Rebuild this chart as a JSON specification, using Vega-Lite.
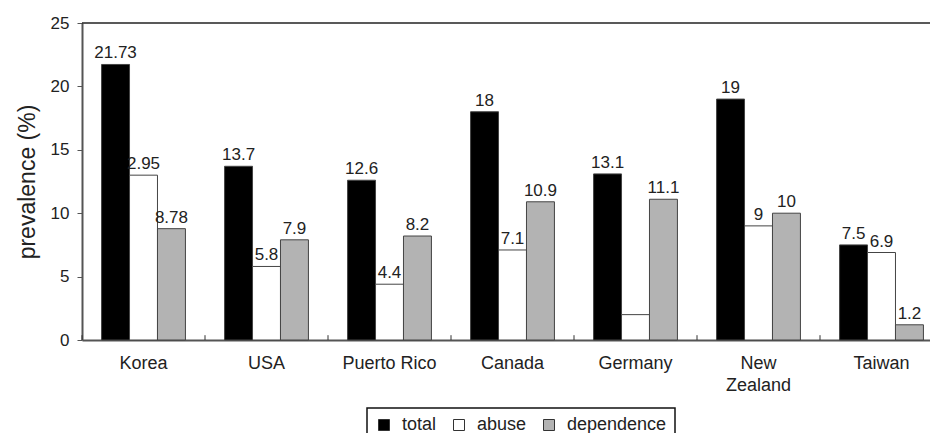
{
  "$schema": "https://vega.github.io/schema/vega-lite/v6.json",
  "width": 848,
  "height": 317,
  "autosize": {"type": "none"},
  "padding": {"left": 82, "top": 23, "right": 0, "bottom": 93},
  "config": {
    "view": {"stroke": null},
    "font": "Liberation Sans",
    "background": "white",
    "legend": {"strokeWidth": 1.5}
  },
  "datasets": {
    "bars": [
      {"country": "Korea", "measure": "total", "value": 21.73, "label": "21.73"},
      {"country": "Korea", "measure": "abuse", "value": 13.0, "label": "2.95"},
      {"country": "Korea", "measure": "dependence", "value": 8.78, "label": "8.78"},
      {"country": "USA", "measure": "total", "value": 13.7, "label": "13.7"},
      {"country": "USA", "measure": "abuse", "value": 5.8, "label": "5.8"},
      {"country": "USA", "measure": "dependence", "value": 7.9, "label": "7.9"},
      {"country": "Puerto Rico", "measure": "total", "value": 12.6, "label": "12.6"},
      {"country": "Puerto Rico", "measure": "abuse", "value": 4.4, "label": "4.4"},
      {"country": "Puerto Rico", "measure": "dependence", "value": 8.2, "label": "8.2"},
      {"country": "Canada", "measure": "total", "value": 18, "label": "18"},
      {"country": "Canada", "measure": "abuse", "value": 7.1, "label": "7.1"},
      {"country": "Canada", "measure": "dependence", "value": 10.9, "label": "10.9"},
      {"country": "Germany", "measure": "total", "value": 13.1, "label": "13.1"},
      {"country": "Germany", "measure": "abuse", "value": 2.0, "label": ""},
      {"country": "Germany", "measure": "dependence", "value": 11.1, "label": "11.1"},
      {"country": "New Zealand", "measure": "total", "value": 19, "label": "19"},
      {"country": "New Zealand", "measure": "abuse", "value": 9, "label": "9"},
      {"country": "New Zealand", "measure": "dependence", "value": 10, "label": "10"},
      {"country": "Taiwan", "measure": "total", "value": 7.5, "label": "7.5"},
      {"country": "Taiwan", "measure": "abuse", "value": 6.9, "label": "6.9"},
      {"country": "Taiwan", "measure": "dependence", "value": 1.2, "label": "1.2"}
    ],
    "countries": [
      {"country": "Korea"}, {"country": "USA"}, {"country": "Puerto Rico"}, {"country": "Canada"},
      {"country": "Germany"}, {"country": "New Zealand"}, {"country": "Taiwan"}
    ]
  },
  "data": {"name": "bars"},
  "layer": [
    {
      "mark": {"type": "bar", "stroke": "#444444", "strokeWidth": 1},
      "encoding": {
        "x": {
          "field": "country",
          "type": "nominal",
          "sort": ["Korea", "USA", "Puerto Rico", "Canada", "Germany", "New Zealand", "Taiwan"],
          "scale": {"range": [0, 861], "paddingInner": 0, "paddingOuter": 0},
          "axis": {
            "title": null,
            "labelAngle": 0,
            "labelFontSize": 18,
            "labelColor": "#222222",
            "labelPadding": 14,
            "labelLineHeight": 22,
            "labelExpr": "datum.value == 'New Zealand' ? ['New', 'Zealand'] : datum.value",
            "domainColor": "#555555",
            "domainWidth": 2,
            "ticks": false,
            "tickSize": 0
          }
        },
        "xOffset": {
          "field": "measure",
          "type": "nominal",
          "sort": ["total", "abuse", "dependence"],
          "scale": {"paddingInner": 0, "paddingOuter": 0.7}
        },
        "y": {
          "field": "value",
          "type": "quantitative",
          "scale": {"domain": [0, 25], "nice": false},
          "axis": {
            "title": "prevalence (%)",
            "titleFontSize": 23,
            "titleFontWeight": "normal",
            "titleColor": "#222222",
            "titlePadding": 11,
            "values": [0, 5, 10, 15, 20, 25],
            "labelFontSize": 17,
            "labelColor": "#222222",
            "labelPadding": 8,
            "tickSize": 5,
            "tickColor": "#555555",
            "domainColor": "#555555",
            "domainWidth": 2,
            "grid": false
          }
        },
        "color": {
          "field": "measure",
          "type": "nominal",
          "scale": {"domain": ["total", "abuse", "dependence"], "range": ["#000000", "#ffffff", "#b3b3b3"]},
          "legend": {
            "title": null,
            "orient": "none",
            "direction": "horizontal",
            "legendX": 285,
            "legendY": 385,
            "padding": 8,
            "strokeColor": "#111111",
            "fillColor": "white",
            "symbolType": "square",
            "symbolSize": 121,
            "symbolStrokeColor": "#333333",
            "symbolStrokeWidth": 1,
            "labelFontSize": 18,
            "labelColor": "#222222",
            "labelOffset": 9,
            "columnPadding": 13
          }
        }
      }
    },
    {
      "mark": {"type": "text", "baseline": "alphabetic", "dy": -6, "fontSize": 17, "color": "#222222"},
      "encoding": {
        "x": {"field": "country", "type": "nominal", "sort": ["Korea", "USA", "Puerto Rico", "Canada", "Germany", "New Zealand", "Taiwan"]},
        "xOffset": {"field": "measure", "type": "nominal", "sort": ["total", "abuse", "dependence"]},
        "y": {"field": "value", "type": "quantitative"},
        "text": {"field": "label"}
      }
    },
    {
      "data": {"name": "countries"},
      "mark": {"type": "rule", "color": "#333333", "strokeWidth": 1},
      "encoding": {
        "x": {"field": "country", "type": "nominal", "bandPosition": 0, "sort": ["Korea", "USA", "Puerto Rico", "Canada", "Germany", "New Zealand", "Taiwan"]},
        "y": {"datum": 0},
        "y2": {"datum": 0.38}
      }
    },
    {
      "data": {"values": [{"top": 25}]},
      "mark": {"type": "rule", "color": "#222222", "strokeWidth": 1.5},
      "encoding": {"y": {"field": "top", "type": "quantitative"}}
    }
  ]
}
